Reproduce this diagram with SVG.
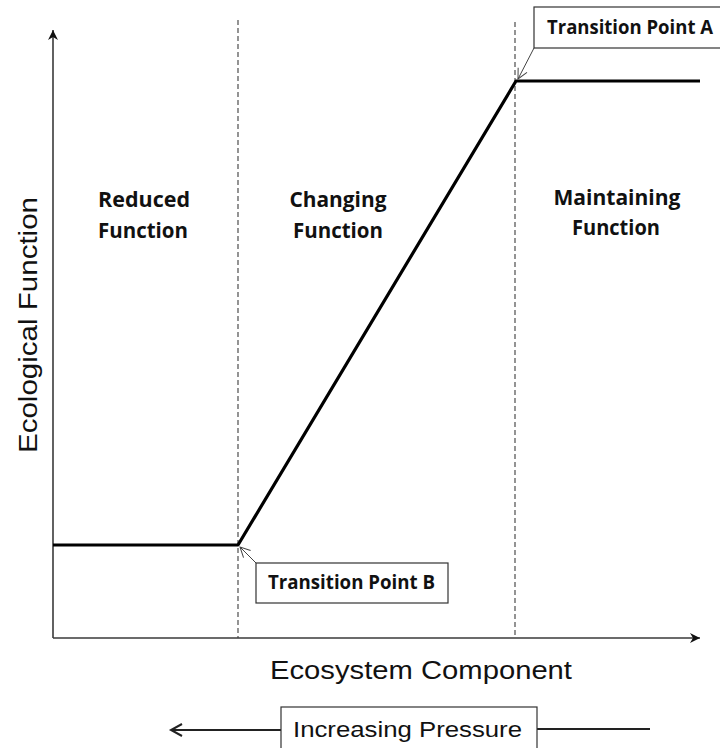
<svg xmlns="http://www.w3.org/2000/svg" width="720" height="748" viewBox="0 0 720 748">
  <style>
    .axis { stroke: #3a3a3a; stroke-width: 1.6; fill: none; }
    .divider { stroke: #3c3c3c; stroke-width: 1.1; stroke-dasharray: 5 3; fill: none; }
    .curve { stroke: #000; stroke-width: 3.2; fill: none; stroke-linejoin: round; }
    .callout { stroke: #444; stroke-width: 1; fill: none; }
    .box { fill: #fff; stroke: #333; stroke-width: 1.2; }
    .region { font-family: "Open Sans", Lato, "Liberation Sans", sans-serif; font-weight: 700; font-size: 21px; fill: #111; text-anchor: middle; }
    .tag { font-family: "Open Sans", Lato, "Liberation Sans", sans-serif; font-weight: 700; font-size: 19px; fill: #111; }
    .axis-title { font-family: "Liberation Sans", Arial, sans-serif; font-size: 26px; fill: #111; }
    .pressure { font-family: "Liberation Sans", Arial, sans-serif; font-size: 22px; fill: #111; }
    .pressure-line { stroke: #222; stroke-width: 2; fill: none; }
  </style>
  <defs>
    <marker id="axis-head" markerUnits="userSpaceOnUse" markerWidth="12" markerHeight="10" refX="10" refY="5" orient="auto">
      <path d="M0,0 L10,5 L0,10 L3,5 Z" fill="#111"/>
    </marker>
    <marker id="open-head" markerUnits="userSpaceOnUse" markerWidth="14" markerHeight="12" refX="11" refY="6" orient="auto">
      <path d="M1,1 L11,6 L1,11" fill="none" stroke="#444" stroke-width="1"/>
    </marker>
    <marker id="pressure-head" markerUnits="userSpaceOnUse" markerWidth="16" markerHeight="16" refX="13" refY="8" orient="auto">
      <path d="M2,2 L13,8 L2,14" fill="none" stroke="#222" stroke-width="2"/>
    </marker>
  </defs>

  <rect width="720" height="748" fill="#fff"/>

  <!-- axes -->
  <g id="axes">
    <line class="axis" x1="53" y1="638" x2="53" y2="30" marker-end="url(#axis-head)"/>
    <line class="axis" x1="53" y1="638" x2="700" y2="638" marker-end="url(#axis-head)"/>
  </g>

  <!-- zone dividers -->
  <g id="dividers">
    <line class="divider" x1="238" y1="20" x2="238" y2="638"/>
    <line class="divider" x1="515" y1="22" x2="515" y2="638"/>
  </g>

  <!-- response curve -->
  <g id="function-curve">
    <polyline class="curve" points="53,545 238,545 516,81 700,81"/>
  </g>

  <!-- zone labels -->
  <g id="label-reduced">
    <text class="region" x="144" y="207" textLength="92" lengthAdjust="spacingAndGlyphs">Reduced</text>
    <text class="region" x="143" y="238" textLength="90" lengthAdjust="spacingAndGlyphs">Function</text>
  </g>
  <g id="label-changing">
    <text class="region" x="338" y="207" textLength="97" lengthAdjust="spacingAndGlyphs">Changing</text>
    <text class="region" x="338" y="238" textLength="90" lengthAdjust="spacingAndGlyphs">Function</text>
  </g>
  <g id="label-maintaining">
    <text class="region" x="617" y="205" textLength="127" lengthAdjust="spacingAndGlyphs">Maintaining</text>
    <text class="region" x="616" y="235" textLength="88" lengthAdjust="spacingAndGlyphs">Function</text>
  </g>

  <!-- callout pointers -->
  <g id="connectors">
    <line class="callout" x1="534" y1="48" x2="518" y2="79" marker-end="url(#open-head)"/>
    <line class="callout" x1="256" y1="563" x2="240" y2="547" marker-end="url(#open-head)"/>
    <line class="pressure-line" x1="281" y1="730" x2="171" y2="730" marker-end="url(#pressure-head)"/>
    <line class="pressure-line" x1="537" y1="729" x2="650" y2="729"/>
  </g>

  <!-- transition point callouts -->
  <g id="point-a">
    <rect class="box" x="534" y="7" width="190" height="41"/>
    <text class="tag" x="547" y="34" textLength="166" lengthAdjust="spacingAndGlyphs">Transition Point A</text>
  </g>
  <g id="point-b">
    <rect class="box" x="256" y="563" width="192" height="40"/>
    <text class="tag" x="268" y="589" textLength="167" lengthAdjust="spacingAndGlyphs">Transition Point B</text>
  </g>

  <!-- axis titles -->
  <g id="y-title">
    <text class="axis-title" transform="translate(37,325) rotate(-90)" x="0" y="0" text-anchor="middle" textLength="256" lengthAdjust="spacingAndGlyphs">Ecological Function</text>
  </g>
  <g id="x-title">
    <text class="axis-title" x="270" y="679" textLength="302" lengthAdjust="spacingAndGlyphs">Ecosystem Component</text>
  </g>

  <!-- pressure direction -->
  <g id="pressure">
    <rect class="box" x="281" y="707" width="256" height="50"/>
    <text class="pressure" x="293" y="737" textLength="229" lengthAdjust="spacingAndGlyphs">Increasing Pressure</text>
  </g>
</svg>
